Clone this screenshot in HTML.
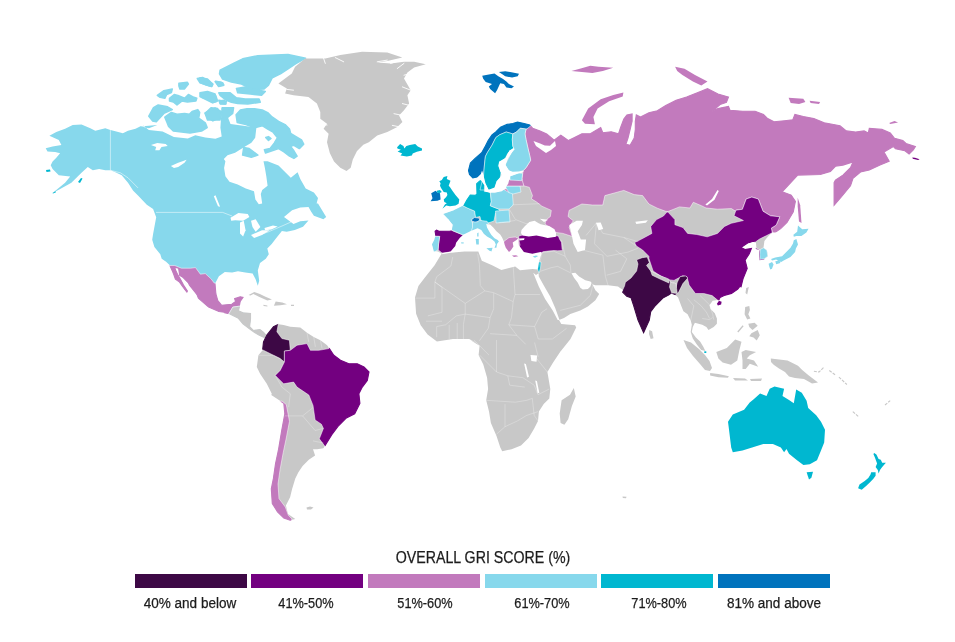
<!DOCTYPE html>
<html><head><meta charset="utf-8"><style>
html,body{margin:0;padding:0;background:#fff;}
body{width:955px;height:642px;position:relative;overflow:hidden;font-family:"Liberation Sans",sans-serif;color:#1c1c1c;-webkit-text-stroke:0.25px #1c1c1c;}
svg{position:absolute;left:0;top:0;}
.title{position:absolute;left:282.6px;width:400px;top:549px;text-align:center;font-size:16px;line-height:18px;transform:scaleX(0.887);transform-origin:50% 50%;}
.bar{position:absolute;top:574px;width:112px;height:14px;}
.lab{position:absolute;top:595px;width:112px;text-align:center;font-size:14px;line-height:16px;transform:scaleX(0.967);transform-origin:50% 50%;}
</style></head><body>
<svg width="955" height="540" viewBox="0 0 955 540">
<defs>
<mask id="cNA" maskUnits="userSpaceOnUse" x="0" y="0" width="955" height="540"><path d="M49.4,135.7L58.8,140.1L61.4,145.1L52.6,146.4L45.7,148.3L47.5,151.4L55.1,152.0L60.1,153.3L56.3,157.7L52.6,161.5L50.7,165.2L52.6,169.0L58.8,175.3L70.2,176.5L65.1,182.8L52.6,192.9L58.8,189.7L71.4,182.8L81.5,172.8L87.8,167.1L92.8,170.3L99.1,169.0L105.3,170.3L110.4,170.3L115.4,172.2L121.7,175.3L128.0,182.8L133.0,190.4L138.0,195.4L146.8,204.7L153.1,208.9L156.2,217.3L153.1,234.0L152.2,239.7L154.4,247.0L160.3,254.3L161.7,258.7L166.1,261.7L169.8,265.3L172.1,270.4L173.7,274.2L175.4,279.1L179.2,281.8L182.4,286.2L186.8,292.2L187.4,291.1L183.5,285.1L180.3,279.1L177.5,274.2L175.4,269.8L174.8,267.1L178.6,268.2L179.7,275.3L183.0,277.4L188.4,282.9L189.5,285.1L195.5,292.7L197.2,295.0L198.4,298.3L208.6,307.1L218.9,311.5L229.9,313.0L224.3,312.7L229.0,313.6L230.9,314.6L238.4,318.3L243.0,323.9L250.5,329.5L254.3,332.3L258.9,335.1L265.5,338.0L266.8,336.0L265.9,335.1L263.6,332.3L259.9,329.5L253.3,330.5L249.6,326.7L250.5,319.3L250.5,313.6L243.0,312.7L238.4,310.8L239.3,307.1L239.3,306.2L240.2,301.5L243.0,297.3L240.2,296.8L234.6,298.7L235.6,301.5L231.8,304.3L221.5,305.2L217.8,300.6L215.9,294.0L215.0,283.7L218.9,276.3L224.8,271.9L232.1,272.6L238.0,271.2L245.3,272.6L252.6,273.4L255.6,279.2L257.8,285.8L259.2,280.7L257.8,270.4L260.0,263.1L265.8,258.7L268.8,254.3L267.3,248.5L271.7,244.1L276.1,238.2L281.9,230.9L286.7,231.7L294.8,230.1L303.0,226.7L308.5,220.6L300.3,221.2L293.5,224.0L284.0,217.1L292.1,210.3L300.3,207.6L308.5,206.9L311.2,211.7L313.9,215.8L323.4,219.2L326.2,217.1L322.1,210.3L318.0,203.5L316.6,203.5L318.0,198.1L313.9,192.6L305.7,188.6L300.3,179.0L297.6,172.2L290.8,177.7L285.3,172.2L278.5,165.4L267.6,161.3L263.5,161.3L264.9,168.1L266.3,176.3L267.6,185.8L262.2,189.9L260.8,194.0L262.2,203.5L258.8,204.2L255.4,199.5L254.0,191.3L245.8,188.6L237.7,184.5L229.5,181.8L225.4,176.3L224.1,168.1L225.4,161.3L223.8,159.1L227.5,155.3L235.1,152.8L245.1,146.5L251.4,142.7L255.2,137.7L256.4,127.6L230.5,123.9L228.0,117.6L233.0,108.8L221.7,107.6L220.4,127.7L221.7,136.5L215.4,138.8L205.3,137.5L195.3,135.2L187.8,138.4L173.9,137.1L162.6,131.5L148.8,130.0L143.8,125.8L140.0,126.4L157.3,125.1L148.9,128.3L145.6,127.5L140.5,126.3L135.5,128.8L128.0,130.7L122.9,133.2L115.4,131.3L110.4,130.1L105.3,128.2L95.3,130.7L90.3,128.2L81.5,124.4L72.7,125.0L65.1,128.8L56.3,131.9Z" fill="#fff" stroke="#fff" stroke-width="1.1"/></mask>
<mask id="cEA" maskUnits="userSpaceOnUse" x="0" y="0" width="955" height="540"><path d="M441.4,253.6L438.1,251.5L434.3,250.9L432.6,244.4L434.8,240.0L435.9,236.2L435.1,231.3L436.5,230.2L438.6,231.0L449.5,231.3L452.3,230.7L453.4,224.7L448.5,218.5L444.3,214.3L453.5,210.9L463.6,205.9L466.9,200.0L470.3,195.0L475.3,195.4L477.0,193.8L476.7,183.7L480.4,180.4L483.7,185.4L483.7,192.1L488.7,193.0L495.0,193.3L502.0,191.8L505.5,189.5L507.0,186.5L508.8,183.7L510.5,177.0L517.2,174.5L523.9,172.0L525.6,169.5L523.1,170.6L512.8,171.1L509.0,169.7L506.2,165.0L508.1,158.4L515.6,148.9L513.7,147.5L509.0,149.9L505.2,157.4L498.6,161.2L497.7,165.9L499.6,171.5L501.5,175.0L496.0,181.0L494.0,187.0L489.0,189.0L486.0,183.0L483.7,173.7L482.0,168.6L480.4,173.7L477.0,177.0L472.8,177.9L469.5,174.5L468.5,170.6L470.4,163.1L475.1,158.4L481.7,152.7L485.4,146.1L488.3,140.4L492.0,134.8L495.8,132.0L500.5,127.3L507.1,124.4L512.8,123.5L517.5,122.1L524.1,123.5L529.7,124.9L532.6,128.2L540.1,131.0L546.7,133.9L550.0,136.7L554.1,140.2L560.8,135.1L570.0,141.8L569.3,140.1L573.5,138.0L581.9,133.8L590.3,133.8L600.7,127.5L602.8,132.7L611.2,131.7L618.5,133.8L620.6,127.5L623.8,119.1L626.9,114.9L632.1,113.9L632.1,121.2L630.1,129.6L628.0,138.0L625.9,144.2L630.1,145.3L634.2,138.0L635.3,129.6L635.3,121.2L636.3,114.9L640.5,117.0L648.9,112.8L657.3,110.7L665.7,105.5L676.1,100.3L686.6,97.1L699.2,91.9L707.5,88.7L718.0,94.0L728.5,97.1L726.4,102.4L720.1,104.5L711.7,111.8L718.0,108.6L728.5,106.5L730.0,110.3L742.6,111.3L755.1,111.3L763.5,114.5L767.7,118.6L774.0,121.8L784.5,120.7L792.8,119.7L794.9,114.5L803.3,116.5L813.8,118.6L824.2,122.8L840.0,125.7L846.3,130.9L855.7,132.0L864.1,130.9L868.3,133.0L869.3,128.3L881.9,129.4L890.3,133.0L894.5,138.3L902.8,140.4L906.0,143.5L915.4,146.6L913.3,149.8L909.1,154.0L904.9,150.8L895.5,148.7L893.4,146.6L884.0,151.9L889.2,161.3L880.0,165.1L869.3,170.1L860.5,172.0L853.0,178.3L850.5,185.8L841.7,196.5L834.1,205.3L834.1,182.7L835.4,180.2L842.9,175.1L850.5,167.6L853.0,161.9L842.9,165.1L835.4,166.3L830.4,171.4L820.3,174.5L797.7,175.1L782.6,191.5L782.8,192.0L791.2,195.1L795.4,201.4L793.3,211.9L787.0,222.4L780.7,228.6L774.5,232.8L771.3,230.7L772.0,232.6L767.8,236.8L764.4,241.0L763.5,247.8L766.9,250.3L767.8,256.2L764.4,258.7L760.2,259.5L759.8,254.5L760.2,249.4L756.4,248.6L756.0,242.7L753.5,241.2L747.2,243.3L740.9,247.5L745.1,249.6L751.4,248.5L749.3,253.8L745.1,260.1L747.2,268.4L743.0,278.9L740.9,287.3L741.0,285.0L737.8,289.2L731.5,293.4L724.2,295.5L720.0,297.6L719.0,299.7L712.7,300.7L709.6,304.9L710.6,309.1L714.8,313.3L716.9,318.5L716.9,323.7L713.7,326.9L708.5,330.0L706.4,326.9L702.2,324.8L694.9,322.7L692.8,326.9L691.8,332.1L695.9,337.4L700.1,341.5L703.3,346.8L705.4,351.0L701.2,349.9L697.0,344.7L692.8,338.4L690.7,332.1L691.8,324.8L690.7,320.6L687.6,314.3L683.4,311.2L681.3,305.9L678.1,297.6L675.0,294.4L672.4,293.5L677.3,293.5L671.7,292.8L668.9,294.9L663.3,297.7L654.9,306.1L650.7,311.7L649.3,320.1L643.6,332.7L638.0,320.1L633.8,306.1L631.0,297.7L626.8,296.3L622.6,292.1L623.3,290.0L620.0,288.0L618.0,286.5L608.0,285.2L595.4,285.2L592.9,284.6L590.4,281.5L585.3,280.2L579.1,276.4L575.3,272.7L571.5,273.3L574.0,277.7L577.8,282.7L580.3,287.8L582.8,289.6L587.9,289.0L590.4,286.5L591.6,282.7L595.4,290.3L599.2,294.0L595.4,300.3L587.9,306.6L580.3,310.4L570.3,314.1L564.0,317.9L559.0,320.0L561.3,324.1L575.1,325.2L576.2,327.5L570.5,339.0L561.3,350.6L560.6,351.3L553.1,362.6L547.4,372.0L548.4,377.7L550.3,389.0L549.3,398.4L543.7,404.1L538.9,411.6L538.0,421.0L534.2,428.6L528.6,438.0L521.0,445.5L511.6,449.3L502.2,451.2L500.3,447.4L496.5,436.1L490.9,422.9L489.0,411.6L486.2,400.3L488.1,389.0L487.1,377.7L483.3,364.5L478.6,355.1L479.6,345.7L470.2,340.0L478.3,343.7L469.1,339.1L453.0,339.1L436.9,341.4L427.6,334.4L420.7,325.2L416.1,313.7L415.0,297.6L418.4,286.1L425.3,276.9L434.6,265.3L441.5,253.8Z" fill="#fff" stroke="#fff" stroke-width="1.1"/></mask>
<mask id="cSA" maskUnits="userSpaceOnUse" x="0" y="0" width="955" height="540"><path d="M266.8,335.2L273.5,326.8L278.5,324.3L283.6,325.1L290.3,326.8L300.3,327.6L307.0,332.7L313.7,336.9L320.4,340.2L327.1,345.2L330.5,350.3L333.8,355.3L340.5,360.3L348.9,363.7L357.3,363.7L364.0,367.0L369.0,372.0L367.3,380.4L362.3,387.1L358.9,393.8L359.9,403.3L354.7,413.8L346.4,417.9L338.0,426.3L331.8,434.6L323.4,448.2L317.2,449.2L313.0,449.2L315.1,455.5L308.8,459.7L302.6,465.9L298.4,472.2L295.3,478.4L292.1,488.9L290.1,497.2L285.9,505.6L288.0,513.9L295.3,519.1L290.1,520.2L283.8,518.1L277.5,511.8L272.3,503.5L271.3,488.9L273.4,478.4L275.5,463.8L278.6,449.2L281.7,430.5L284.8,413.8L283.8,403.3L271.3,395.0L271.8,393.8L266.8,383.8L260.1,373.7L256.8,367.0L258.4,355.3L262.6,350.3L263.5,341.9Z" fill="#fff" stroke="#fff" stroke-width="1.1"/></mask>
</defs>
<path d="M49.4,135.7L58.8,140.1L61.4,145.1L52.6,146.4L45.7,148.3L47.5,151.4L55.1,152.0L60.1,153.3L56.3,157.7L52.6,161.5L50.7,165.2L52.6,169.0L58.8,175.3L70.2,176.5L65.1,182.8L52.6,192.9L58.8,189.7L71.4,182.8L81.5,172.8L87.8,167.1L92.8,170.3L99.1,169.0L105.3,170.3L110.4,170.3L115.4,172.2L121.7,175.3L128.0,182.8L133.0,190.4L138.0,195.4L146.8,204.7L153.1,208.9L156.2,217.3L153.1,234.0L152.2,239.7L154.4,247.0L160.3,254.3L161.7,258.7L166.1,261.7L169.8,265.3L172.1,270.4L173.7,274.2L175.4,279.1L179.2,281.8L182.4,286.2L186.8,292.2L187.4,291.1L183.5,285.1L180.3,279.1L177.5,274.2L175.4,269.8L174.8,267.1L178.6,268.2L179.7,275.3L183.0,277.4L188.4,282.9L189.5,285.1L195.5,292.7L197.2,295.0L198.4,298.3L208.6,307.1L218.9,311.5L229.9,313.0L224.3,312.7L229.0,313.6L230.9,314.6L238.4,318.3L243.0,323.9L250.5,329.5L254.3,332.3L258.9,335.1L265.5,338.0L266.8,336.0L265.9,335.1L263.6,332.3L259.9,329.5L253.3,330.5L249.6,326.7L250.5,319.3L250.5,313.6L243.0,312.7L238.4,310.8L239.3,307.1L239.3,306.2L240.2,301.5L243.0,297.3L240.2,296.8L234.6,298.7L235.6,301.5L231.8,304.3L221.5,305.2L217.8,300.6L215.9,294.0L215.0,283.7L218.9,276.3L224.8,271.9L232.1,272.6L238.0,271.2L245.3,272.6L252.6,273.4L255.6,279.2L257.8,285.8L259.2,280.7L257.8,270.4L260.0,263.1L265.8,258.7L268.8,254.3L267.3,248.5L271.7,244.1L276.1,238.2L281.9,230.9L286.7,231.7L294.8,230.1L303.0,226.7L308.5,220.6L300.3,221.2L293.5,224.0L284.0,217.1L292.1,210.3L300.3,207.6L308.5,206.9L311.2,211.7L313.9,215.8L323.4,219.2L326.2,217.1L322.1,210.3L318.0,203.5L316.6,203.5L318.0,198.1L313.9,192.6L305.7,188.6L300.3,179.0L297.6,172.2L290.8,177.7L285.3,172.2L278.5,165.4L267.6,161.3L263.5,161.3L264.9,168.1L266.3,176.3L267.6,185.8L262.2,189.9L260.8,194.0L262.2,203.5L258.8,204.2L255.4,199.5L254.0,191.3L245.8,188.6L237.7,184.5L229.5,181.8L225.4,176.3L224.1,168.1L225.4,161.3L223.8,159.1L227.5,155.3L235.1,152.8L245.1,146.5L251.4,142.7L255.2,137.7L256.4,127.6L230.5,123.9L228.0,117.6L233.0,108.8L221.7,107.6L220.4,127.7L221.7,136.5L215.4,138.8L205.3,137.5L195.3,135.2L187.8,138.4L173.9,137.1L162.6,131.5L148.8,130.0L143.8,125.8L140.0,126.4L157.3,125.1L148.9,128.3L145.6,127.5L140.5,126.3L135.5,128.8L128.0,130.7L122.9,133.2L115.4,131.3L110.4,130.1L105.3,128.2L95.3,130.7L90.3,128.2L81.5,124.4L72.7,125.0L65.1,128.8L56.3,131.9Z" fill="#87d8ec"/>
<g mask="url(#cNA)">
<path d="M169.9,265.5L174.8,265.5L181.4,268.2L190.6,268.2L195.5,267.6L200.4,274.2L205.3,273.6L211.3,279.1L214.1,282.9L216.7,283.6L226.0,287.0L246.0,295.0L245.0,306.0L239.3,306.2L232.8,307.1L229.0,313.6L225.0,318.0L208.6,316.0L167.6,273.4L166.1,264.6Z" fill="#c27abd" stroke="#fff" stroke-width="0.5"/>
<path d="M225.0,318.0L229.0,313.6L232.8,307.1L239.3,306.2L245.0,306.0L300.0,320.0L300.0,332.0L268.0,334.0L267.0,342.0L250.0,345.0L222.0,325.0Z" fill="#c8c8c8" stroke="#fff" stroke-width="0.5"/>
</g>
<path d="M156.0,212.4L222.7,212.4L232.0,216.0" fill="none" stroke="#fff" stroke-width="0.5"/>
<path d="M110.4,130.1L110.4,170.3L120.4,172.8L128.0,177.8L138.0,187.9" fill="none" stroke="#fff" stroke-width="0.5"/>
<path d="M262.0,234.0L268.0,232.0L282.0,226.0L291.0,222.0L289.0,218.0" fill="none" stroke="#fff" stroke-width="0.5"/>
<path d="M157.3,95.4L163.9,90.7L172.3,88.9L171.4,92.6L166.7,94.5L164.8,98.3L160.1,97.3Z" fill="#87d8ec" stroke="#87d8ec" stroke-width="1.5" stroke-linejoin="round"/>
<path d="M178.9,83.2L187.4,82.3L188.4,84.1L184.6,88.9L179.9,88.9L178.9,86.0Z" fill="#87d8ec" stroke="#87d8ec" stroke-width="1.5" stroke-linejoin="round"/>
<path d="M169.5,98.3L174.2,94.5L178.0,95.4L184.6,98.3L188.4,94.5L194.0,97.3L196.8,98.3L195.9,101.1L187.4,102.0L181.8,101.1L177.0,104.9L173.3,102.0L169.5,101.1Z" fill="#87d8ec" stroke="#87d8ec" stroke-width="1.5" stroke-linejoin="round"/>
<path d="M197.3,78.5L202.5,77.5L209.1,81.3L212.9,84.1L211.9,86.5L206.3,85.1L199.7,82.3Z" fill="#87d8ec" stroke="#87d8ec" stroke-width="1.5" stroke-linejoin="round"/>
<path d="M215.7,81.3L221.3,82.3L223.2,85.1L218.5,86.0Z" fill="#87d8ec" stroke="#87d8ec" stroke-width="1.5" stroke-linejoin="round"/>
<path d="M200.6,93.6L205.3,93.1L210.0,93.6L215.7,95.4L217.6,101.1L212.9,102.5L205.3,98.3L201.5,97.3Z" fill="#87d8ec" stroke="#87d8ec" stroke-width="1.5" stroke-linejoin="round"/>
<path d="M219.5,101.1L224.2,100.2L226.1,103.9L220.4,103.9Z" fill="#87d8ec" stroke="#87d8ec" stroke-width="1.5" stroke-linejoin="round"/>
<path d="M148.8,116.2L153.5,107.7L158.2,104.9L167.6,106.8L172.3,109.6L163.9,113.4L156.3,121.8L152.5,120.9Z" fill="#87d8ec" stroke="#87d8ec" stroke-width="1.5" stroke-linejoin="round"/>
<path d="M164.8,117.1L171.4,112.4L177.0,114.3L184.6,113.4L189.3,114.3L192.1,111.5L197.8,109.6L199.7,112.4L198.7,118.1L205.3,122.8L207.2,127.5L201.5,131.0L190.0,133.0L173.3,131.0L168.6,126.5L166.7,121.8Z" fill="#87d8ec" stroke="#87d8ec" stroke-width="1.5" stroke-linejoin="round"/>
<path d="M205.3,113.4L211.0,107.7L217.6,108.6L219.5,113.4L216.6,119.0L212.9,120.9L207.2,117.1Z" fill="#87d8ec" stroke="#87d8ec" stroke-width="1.5" stroke-linejoin="round"/>
<path d="M222.3,107.7L233.6,107.7L232.7,113.4L227.9,117.1L225.1,120.9L222.3,115.2Z" fill="#87d8ec" stroke="#87d8ec" stroke-width="1.5" stroke-linejoin="round"/>
<path d="M220.1,70.2L233.9,63.2L242.7,58.8L257.8,55.7L275.4,55.1L288.0,54.5L305.6,58.2L295.5,63.9L288.0,68.9L280.4,73.9L272.3,77.7L268.5,85.2L264.1,89.0L252.8,89.6L241.5,84.0L231.4,82.1L222.6,79.0L219.5,73.9Z" fill="#87d8ec" stroke="#87d8ec" stroke-width="1.5" stroke-linejoin="round"/>
<path d="M236.4,88.4L245.2,87.1L255.3,89.6L265.3,91.5L261.6,95.3L250.3,94.0L237.7,92.8Z" fill="#87d8ec" stroke="#87d8ec" stroke-width="1.5" stroke-linejoin="round"/>
<path d="M218.8,92.8L230.2,92.8L236.4,97.8L245.2,99.1L259.1,99.1L260.3,102.2L247.8,104.1L237.7,103.5L231.4,102.2L226.4,100.3L220.1,95.3Z" fill="#87d8ec" stroke="#87d8ec" stroke-width="1.5" stroke-linejoin="round"/>
<path d="M200.0,77.7L207.5,79.0L212.6,84.0L211.3,86.5L203.8,84.0L200.0,82.7Z" fill="#87d8ec" stroke="#87d8ec" stroke-width="1.5" stroke-linejoin="round"/>
<path d="M215.1,81.5L222.6,82.7L223.9,85.2L218.8,86.5Z" fill="#87d8ec" stroke="#87d8ec" stroke-width="1.5" stroke-linejoin="round"/>
<path d="M200.0,92.8L207.5,91.5L215.1,94.0L216.3,101.6L212.6,102.8L205.0,99.1L200.0,96.5Z" fill="#87d8ec" stroke="#87d8ec" stroke-width="1.5" stroke-linejoin="round"/>
<path d="M218.8,100.3L226.4,101.6L225.1,104.1L220.1,103.5Z" fill="#87d8ec" stroke="#87d8ec" stroke-width="1.5" stroke-linejoin="round"/>
<path d="M205.0,112.9L215.1,107.9L221.4,111.6L220.1,120.0L207.5,120.0Z" fill="#87d8ec" stroke="#87d8ec" stroke-width="1.5" stroke-linejoin="round"/>
<path d="M222.6,107.9L232.7,108.5L228.9,115.4L223.9,120.0L222.0,115.4Z" fill="#87d8ec" stroke="#87d8ec" stroke-width="1.5" stroke-linejoin="round"/>
<path d="M236.1,114.8L240.4,109.9L247.0,108.8L254.6,108.8L262.2,109.9L267.7,112.6L272.1,117.0L278.6,121.3L285.1,124.6L289.5,129.0L290.6,133.3L296.0,136.6L301.5,139.9L303.7,144.2L299.3,148.6L293.9,145.3L290.6,146.4L293.9,150.8L297.1,156.2L293.9,158.4L289.5,156.2L284.0,151.9L278.6,148.6L272.1,150.8L265.5,153.0L264.4,149.7L269.9,148.6L274.2,143.1L277.5,137.7L273.1,132.2L267.7,129.0L262.2,125.7L254.6,127.9L245.9,124.6L237.2,122.4Z" fill="#87d8ec" stroke="#87d8ec" stroke-width="1.5" stroke-linejoin="round"/>
<path d="M243.7,147.5L249.2,148.6L257.9,155.1L251.3,157.3L242.6,155.1Z" fill="#87d8ec" stroke="#87d8ec" stroke-width="1.5" stroke-linejoin="round"/>
<path d="M265.7,137.5L268.5,136.6L271.0,138.5L268.5,140.4Z" fill="#87d8ec" stroke="#87d8ec" stroke-width="1.5" stroke-linejoin="round"/>
<path d="M151.0,145.0L157.3,142.9L165.7,144.0L167.7,146.1L161.5,147.1L159.4,150.3L155.2,150.3L156.2,147.1Z" fill="#fff"/>
<path d="M170.9,166.0L178.2,162.8L186.6,159.7L184.5,162.8L178.2,167.0L174.0,168.1Z" fill="#fff"/>
<path d="M213.8,196.3L215.5,195.3L220.1,206.8L218.0,206.3Z" fill="#fff"/>
<path d="M230.5,217.7L238.4,213.0L247.8,213.9L249.4,217.1L243.1,220.8L235.2,220.2L231.2,220.8Z" fill="#fff"/>
<path d="M240.0,222.4L243.7,220.8L245.6,230.3L243.1,236.5L240.0,233.4Z" fill="#fff"/>
<path d="M251.0,220.8L255.7,219.3L260.4,227.1L255.7,231.8L252.5,227.1Z" fill="#fff"/>
<path d="M251.0,235.0L262.0,230.3L269.8,230.3L262.0,235.0L254.1,238.1Z" fill="#fff"/>
<path d="M264.5,228.1L273.0,225.6L277.7,226.5L271.4,229.6L265.1,230.3Z" fill="#fff"/>
<path d="M46.0,170.0L50.0,169.5L50.5,171.5L46.5,172.0Z" fill="#00b7d0"/>
<path d="M78.0,182.0L81.0,178.0L82.5,178.5L80.0,183.0Z" fill="#00b7d0"/>
<path d="M52.5,193.0L55.5,191.3L56.0,192.3L53.0,193.6Z" fill="#00b7d0"/>
<path d="M248.6,295.0L254.3,292.1L259.9,294.0L265.5,296.8L272.0,299.6L267.3,300.6L258.9,296.8L253.3,294.0L250.5,295.4Z" fill="#c8c8c8"/>
<path d="M275.7,301.5L282.3,302.4L287.0,304.3L280.4,305.2L273.9,305.7Z" fill="#c8c8c8"/>
<path d="M263.3,304.8L267.3,305.4L267.5,306.6L263.6,306.0Z" fill="#c8c8c8"/>
<path d="M290.9,304.8L294.0,304.8L294.0,306.0L291.0,306.0Z" fill="#c8c8c8"/>
<path d="M305.2,58.4L325.3,58.4L340.4,55.1L362.1,51.7L387.3,52.5L402.3,57.6L387.3,60.9L377.2,62.6L390.6,63.4L404.0,61.8L414.1,61.8L425.8,64.3L414.1,67.6L407.4,72.6L404.0,78.5L410.7,90.2L407.4,95.3L409.1,103.6L404.0,110.3L399.0,115.4L402.4,122.1L397.3,127.1L387.3,132.1L377.2,135.5L368.8,142.2L363.3,144.7L357.0,151.0L352.8,159.4L350.7,167.7L346.5,170.9L340.3,167.7L334.0,161.5L329.8,153.1L327.0,142.2L328.6,133.8L323.6,128.8L327.0,123.7L320.3,118.7L320.3,112.0L316.9,103.6L308.5,96.9L293.5,95.3L285.1,93.6L286.8,88.6L278.4,83.5L291.8,73.5L295.1,66.8Z" fill="#c8c8c8"/>
<path d="M323.6,58.4L325.3,63.4" fill="none" stroke="#fff" stroke-width="0.9" stroke-linecap="round"/>
<path d="M335.3,57.6L343.7,61.8" fill="none" stroke="#fff" stroke-width="0.9" stroke-linecap="round"/>
<path d="M377.2,61.8L387.3,60.1" fill="none" stroke="#fff" stroke-width="0.9" stroke-linecap="round"/>
<path d="M390.6,63.4L399.0,60.9" fill="none" stroke="#fff" stroke-width="0.9" stroke-linecap="round"/>
<path d="M397.3,68.5L404.0,63.4" fill="none" stroke="#fff" stroke-width="0.9" stroke-linecap="round"/>
<path d="M404.0,75.2L410.7,73.5" fill="none" stroke="#fff" stroke-width="0.9" stroke-linecap="round"/>
<path d="M402.4,86.9L410.7,90.2" fill="none" stroke="#fff" stroke-width="0.9" stroke-linecap="round"/>
<path d="M402.4,103.6L409.1,105.3" fill="none" stroke="#fff" stroke-width="0.9" stroke-linecap="round"/>
<path d="M394.0,113.7L402.4,115.4" fill="none" stroke="#fff" stroke-width="0.9" stroke-linecap="round"/>
<path d="M392.3,125.4L400.7,127.1" fill="none" stroke="#fff" stroke-width="0.9" stroke-linecap="round"/>
<path d="M320.3,123.7L327.0,125.0" fill="none" stroke="#fff" stroke-width="0.9" stroke-linecap="round"/>
<path d="M286.8,89.4L293.5,90.2" fill="none" stroke="#fff" stroke-width="0.9" stroke-linecap="round"/>
<path d="M397.1,147.2L400.1,144.0L403.5,145.9L404.3,148.5L406.4,145.9L409.8,145.1L415.2,144.0L417.8,146.4L422.0,148.5L422.0,150.6L416.9,151.8L412.7,153.5L411.9,155.6L406.8,156.4L400.5,155.6L402.2,153.5L397.6,151.4L400.9,149.7L397.4,148.5Z" fill="#00b7d0"/>
<path d="M482.2,75.7L488.8,74.4L494.5,73.5L498.3,76.3L502.7,78.8L506.4,81.4L508.9,83.9L514.0,86.4L511.5,88.3L506.4,87.6L503.9,83.9L500.2,83.2L497.0,90.2L495.1,93.3L490.1,88.9L488.8,86.4L492.0,83.9L485.7,82.0L483.2,78.8Z" fill="#0073bd"/>
<path d="M498.9,71.9L505.2,71.3L510.2,71.9L519.0,73.8L517.7,76.3L512.1,77.6L505.2,76.3L502.7,74.4Z" fill="#0073bd"/>
<path d="M441.4,253.6L438.1,251.5L434.3,250.9L432.6,244.4L434.8,240.0L435.9,236.2L435.1,231.3L436.5,230.2L438.6,231.0L449.5,231.3L452.3,230.7L453.4,224.7L448.5,218.5L444.3,214.3L453.5,210.9L463.6,205.9L466.9,200.0L470.3,195.0L475.3,195.4L477.0,193.8L476.7,183.7L480.4,180.4L483.7,185.4L483.7,192.1L488.7,193.0L495.0,193.3L502.0,191.8L505.5,189.5L507.0,186.5L508.8,183.7L510.5,177.0L517.2,174.5L523.9,172.0L525.6,169.5L523.1,170.6L512.8,171.1L509.0,169.7L506.2,165.0L508.1,158.4L515.6,148.9L513.7,147.5L509.0,149.9L505.2,157.4L498.6,161.2L497.7,165.9L499.6,171.5L501.5,175.0L496.0,181.0L494.0,187.0L489.0,189.0L486.0,183.0L483.7,173.7L482.0,168.6L480.4,173.7L477.0,177.0L472.8,177.9L469.5,174.5L468.5,170.6L470.4,163.1L475.1,158.4L481.7,152.7L485.4,146.1L488.3,140.4L492.0,134.8L495.8,132.0L500.5,127.3L507.1,124.4L512.8,123.5L517.5,122.1L524.1,123.5L529.7,124.9L532.6,128.2L540.1,131.0L546.7,133.9L550.0,136.7L554.1,140.2L560.8,135.1L570.0,141.8L569.3,140.1L573.5,138.0L581.9,133.8L590.3,133.8L600.7,127.5L602.8,132.7L611.2,131.7L618.5,133.8L620.6,127.5L623.8,119.1L626.9,114.9L632.1,113.9L632.1,121.2L630.1,129.6L628.0,138.0L625.9,144.2L630.1,145.3L634.2,138.0L635.3,129.6L635.3,121.2L636.3,114.9L640.5,117.0L648.9,112.8L657.3,110.7L665.7,105.5L676.1,100.3L686.6,97.1L699.2,91.9L707.5,88.7L718.0,94.0L728.5,97.1L726.4,102.4L720.1,104.5L711.7,111.8L718.0,108.6L728.5,106.5L730.0,110.3L742.6,111.3L755.1,111.3L763.5,114.5L767.7,118.6L774.0,121.8L784.5,120.7L792.8,119.7L794.9,114.5L803.3,116.5L813.8,118.6L824.2,122.8L840.0,125.7L846.3,130.9L855.7,132.0L864.1,130.9L868.3,133.0L869.3,128.3L881.9,129.4L890.3,133.0L894.5,138.3L902.8,140.4L906.0,143.5L915.4,146.6L913.3,149.8L909.1,154.0L904.9,150.8L895.5,148.7L893.4,146.6L884.0,151.9L889.2,161.3L880.0,165.1L869.3,170.1L860.5,172.0L853.0,178.3L850.5,185.8L841.7,196.5L834.1,205.3L834.1,182.7L835.4,180.2L842.9,175.1L850.5,167.6L853.0,161.9L842.9,165.1L835.4,166.3L830.4,171.4L820.3,174.5L797.7,175.1L782.6,191.5L782.8,192.0L791.2,195.1L795.4,201.4L793.3,211.9L787.0,222.4L780.7,228.6L774.5,232.8L771.3,230.7L772.0,232.6L767.8,236.8L764.4,241.0L763.5,247.8L766.9,250.3L767.8,256.2L764.4,258.7L760.2,259.5L759.8,254.5L760.2,249.4L756.4,248.6L756.0,242.7L753.5,241.2L747.2,243.3L740.9,247.5L745.1,249.6L751.4,248.5L749.3,253.8L745.1,260.1L747.2,268.4L743.0,278.9L740.9,287.3L741.0,285.0L737.8,289.2L731.5,293.4L724.2,295.5L720.0,297.6L719.0,299.7L712.7,300.7L709.6,304.9L710.6,309.1L714.8,313.3L716.9,318.5L716.9,323.7L713.7,326.9L708.5,330.0L706.4,326.9L702.2,324.8L694.9,322.7L692.8,326.9L691.8,332.1L695.9,337.4L700.1,341.5L703.3,346.8L705.4,351.0L701.2,349.9L697.0,344.7L692.8,338.4L690.7,332.1L691.8,324.8L690.7,320.6L687.6,314.3L683.4,311.2L681.3,305.9L678.1,297.6L675.0,294.4L672.4,293.5L677.3,293.5L671.7,292.8L668.9,294.9L663.3,297.7L654.9,306.1L650.7,311.7L649.3,320.1L643.6,332.7L638.0,320.1L633.8,306.1L631.0,297.7L626.8,296.3L622.6,292.1L623.3,290.0L620.0,288.0L618.0,286.5L608.0,285.2L595.4,285.2L592.9,284.6L590.4,281.5L585.3,280.2L579.1,276.4L575.3,272.7L571.5,273.3L574.0,277.7L577.8,282.7L580.3,287.8L582.8,289.6L587.9,289.0L590.4,286.5L591.6,282.7L595.4,290.3L599.2,294.0L595.4,300.3L587.9,306.6L580.3,310.4L570.3,314.1L564.0,317.9L559.0,320.0L561.3,324.1L575.1,325.2L576.2,327.5L570.5,339.0L561.3,350.6L560.6,351.3L553.1,362.6L547.4,372.0L548.4,377.7L550.3,389.0L549.3,398.4L543.7,404.1L538.9,411.6L538.0,421.0L534.2,428.6L528.6,438.0L521.0,445.5L511.6,449.3L502.2,451.2L500.3,447.4L496.5,436.1L490.9,422.9L489.0,411.6L486.2,400.3L488.1,389.0L487.1,377.7L483.3,364.5L478.6,355.1L479.6,345.7L470.2,340.0L478.3,343.7L469.1,339.1L453.0,339.1L436.9,341.4L427.6,334.4L420.7,325.2L416.1,313.7L415.0,297.6L418.4,286.1L425.3,276.9L434.6,265.3L441.5,253.8Z" fill="#c8c8c8"/>
<g mask="url(#cEA)">
<path d="M529.7,124.9L529.0,60.0L940.0,40.0L955.0,170.0L880.0,215.0L800.0,235.0L782.8,232.8L772.3,232.7L771.4,228.0L776.1,225.2L779.8,216.8L770.5,215.8L763.0,211.2L758.3,199.0L751.8,197.1L746.2,199.0L742.4,209.3L735.9,210.2L736.0,211.5L731.4,208.6L717.5,209.2L706.0,208.0L701.4,205.7L693.3,202.3L689.9,208.0L679.5,206.9L668.0,211.5L665.7,211.3L657.3,208.2L648.9,204.0L642.6,195.6L634.2,194.6L623.8,190.4L604.9,195.6L602.8,205.0L592.4,205.0L581.9,204.0L569.1,210.4L568.1,216.6L573.3,220.8L569.1,227.1L572.3,236.5L562.8,233.4L555.5,232.4L545.0,224.0L546.1,219.8L550.3,216.6L551.3,210.4L541.9,206.2L536.6,202.0L531.4,198.8L532.5,195.7L529.3,187.3L523.8,185.9L521.7,180.7L522.7,173.4L523.1,170.6L526.0,167.8L530.7,160.2L529.7,155.5L527.9,148.0L526.0,139.5L525.0,133.9L526.0,129.1L527.9,128.2Z" fill="#c27abd" stroke="#fff" stroke-width="0.5"/>
<path d="M502.8,189.1L509.1,188.8L509.1,192.7L502.8,192.7Z" fill="#c27abd" stroke="#fff" stroke-width="0.5"/>
<path d="M668.0,212.1L674.9,219.6L674.9,224.7L683.0,227.6L687.6,233.4L696.8,234.5L707.2,236.8L717.5,233.4L724.4,226.5L731.2,223.3L743.4,220.5L734.0,215.8L735.9,210.2L742.4,209.3L746.2,199.0L751.8,197.1L758.3,199.0L763.0,211.2L770.5,215.8L779.8,216.8L776.1,225.2L771.4,228.0L772.3,232.7L766.7,235.5L759.3,239.2L755.5,242.0L748.0,244.0L760.0,250.0L770.0,270.0L760.0,300.0L720.0,315.0L718.4,300.8L712.1,295.6L703.8,293.5L695.4,293.5L689.1,285.1L687.0,276.8L682.8,275.7L674.0,280.4L665.7,279.4L653.1,271.0L648.9,258.4L648.9,256.3L642.6,250.0L636.3,245.9L634.6,242.6L641.5,239.1L651.9,233.4L650.7,226.5L656.5,219.6L663.4,216.1L666.9,212.1Z" fill="#730080" stroke="#fff" stroke-width="0.5"/>
<path d="M625.4,282.2L631.0,278.0L636.6,271.0L638.0,264.0L636.6,259.8L642.2,257.7L647.2,257.0L649.3,262.6L646.5,265.4L650.7,271.0L656.3,275.2L666.1,278.0L668.9,279.4L670.3,282.2L675.9,283.6L675.9,287.9L677.3,282.2L680.1,276.6L685.7,275.9L687.8,278.0L682.9,283.6L678.7,292.1L677.3,293.5L670.0,300.0L660.0,330.0L645.0,345.0L625.0,320.0L615.0,300.0L621.5,292.5L624.5,286.0Z" fill="#3d0845" stroke="#fff" stroke-width="0.5"/>
<path d="M670.3,282.2L675.9,283.6L677.3,293.5L671.7,292.8L669.5,287.0Z" fill="#c8c8c8" stroke="#fff" stroke-width="0.5"/>
<path d="M650.7,271.0L660.0,275.5L668.9,279.4L668.9,283.0L660.0,279.0L652.1,275.2Z" fill="#c8c8c8" stroke="#fff" stroke-width="0.5"/>
<path d="M518.8,236.0L522.6,235.0L530.0,234.0L547.0,235.0L558.4,236.0L559.6,239.2L561.5,242.3L562.1,249.2L562.8,250.5L557.7,250.8L554.0,250.5L547.7,251.1L542.7,251.8L541.4,254.0L536.0,256.0L520.0,256.0L517.0,245.0L518.8,241.0Z" fill="#730080" stroke="#fff" stroke-width="0.5"/>
<path d="M503.9,241.4L509.0,237.6L515.3,237.0L518.4,238.2L520.0,245.0L515.0,256.0L505.0,255.0L502.0,246.0Z" fill="#c27abd" stroke="#fff" stroke-width="0.5"/>
<path d="M538.5,262.0L541.0,262.0L540.5,268.0L539.0,273.0L537.5,269.0Z" fill="#00b7d0" stroke="#fff" stroke-width="0.5"/>
<path d="M430.0,226.0L451.9,226.0L452.3,230.7L463.6,235.2L470.0,240.0L460.0,251.0L442.0,253.0L438.1,249.8L438.6,243.8L439.7,236.4L430.0,236.2Z" fill="#730080" stroke="#fff" stroke-width="0.5"/>
<path d="M428.0,236.2L439.7,236.4L438.6,243.8L438.1,249.8L428.0,256.0Z" fill="#87d8ec" stroke="#fff" stroke-width="0.5"/>
<path d="M440.0,208.0L455.0,202.0L462.0,205.3L467.2,207.9L474.6,211.1L475.6,217.4L471.4,219.5L472.5,223.6L473.5,232.0L480.0,240.0L463.6,235.2L451.9,230.2L445.0,226.0L438.0,215.0Z" fill="#87d8ec" stroke="#fff" stroke-width="0.5"/>
<path d="M462.0,205.3L458.0,198.0L470.0,190.0L474.0,180.0L486.0,180.0L490.3,193.3L491.3,201.6L490.3,205.8L498.6,209.0L500.0,211.0L495.5,213.0L494.0,221.0L488.0,223.0L481.0,221.0L480.0,216.5L475.6,217.4L474.6,211.1L467.2,207.9Z" fill="#00b7d0" stroke="#fff" stroke-width="0.5"/>
<path d="M471.3,220.0L474.4,217.5L478.8,218.1L480.1,220.7L475.1,222.5L472.5,221.3Z" fill="#0073bd" stroke="#fff" stroke-width="0.5"/>
<path d="M472.5,221.9L474.4,221.9L477.6,221.9L479.4,220.0L482.6,220.7L487.0,221.3L488.9,223.8L486.4,224.4L490.0,226.0L500.0,240.0L497.0,250.0L490.0,250.0L470.0,236.0L471.3,230.7L472.5,227.6Z" fill="#87d8ec" stroke="#fff" stroke-width="0.5"/>
<path d="M490.3,191.0L503.0,189.0L509.0,192.5L512.3,192.2L513.3,204.8L509.1,209.0L498.6,209.0L490.3,205.8L491.3,201.6Z" fill="#87d8ec" stroke="#fff" stroke-width="0.5"/>
<path d="M505.0,186.0L520.0,186.0L521.0,192.0L513.0,194.0L509.0,192.7Z" fill="#87d8ec" stroke="#fff" stroke-width="0.5"/>
<path d="M505.0,180.0L522.0,179.0L523.8,186.0L506.0,186.0Z" fill="#c27abd" stroke="#fff" stroke-width="0.5"/>
<path d="M510.0,172.0L522.7,173.4L521.7,180.7L510.0,180.0Z" fill="#87d8ec" stroke="#fff" stroke-width="0.5"/>
<path d="M495.5,211.0L509.0,210.0L510.0,222.0L496.0,223.0Z" fill="#87d8ec" stroke="#fff" stroke-width="0.5"/>
<path d="M460.0,175.0L462.0,160.0L475.0,145.0L490.0,128.0L505.0,118.0L525.0,115.0L535.0,122.0L527.9,128.2L526.0,129.1L520.3,128.2L516.5,132.0L512.8,133.9L506.2,132.0L499.6,134.8L495.8,137.6L492.0,145.2L487.3,152.7L485.4,156.5L484.5,164.0L483.6,175.0L470.0,182.0Z" fill="#0073bd" stroke="#fff" stroke-width="0.5"/>
<path d="M483.6,175.0L484.5,164.0L485.4,156.5L487.3,152.7L492.0,145.2L495.8,137.6L499.6,134.8L506.2,132.0L512.8,133.9L512.3,139.5L512.8,146.1L513.7,148.0L508.0,153.0L502.0,165.0L500.0,180.0L495.0,190.0L480.0,190.0Z" fill="#00b7d0" stroke="#fff" stroke-width="0.5"/>
<path d="M512.8,133.9L516.5,132.0L520.3,128.2L526.0,129.1L525.0,133.9L526.0,139.5L527.9,148.0L529.7,155.5L530.7,160.2L526.0,167.8L523.1,170.6L512.0,175.0L505.0,165.0L513.7,148.0L512.8,146.1L512.3,139.5Z" fill="#87d8ec" stroke="#fff" stroke-width="0.5"/>
<path d="M760.2,249.4L763.5,247.8L766.9,250.3L767.8,256.2L764.4,258.7L760.2,259.5L759.8,254.5Z" fill="#87d8ec" stroke="#fff" stroke-width="0.5"/>
</g>
<path d="M441.5,254.2L441.4,253.6L450.6,251.4L455.3,246.0L456.1,242.7L459.9,237.8L463.2,234.8L471.3,230.7L477.6,228.2L481.3,230.1L483.8,233.8L487.0,236.4L491.4,238.9L494.5,241.4L495.8,244.5L494.5,247.7L496.4,247.7L497.0,243.9L498.9,241.4L497.7,240.1L494.5,238.2L491.4,235.1L489.5,232.0L487.0,227.6L486.4,224.4L490.1,224.4L493.3,227.6L496.4,231.3L500.2,234.5L502.1,237.6L503.9,241.4L504.6,244.5L505.8,247.7L509.0,252.1L510.9,250.2L513.4,246.4L512.7,242.6L516.5,240.1L518.4,238.2L518.9,245.3L523.9,252.0L532.3,253.7L540.6,252.0L542.0,252.6L540.7,256.3L538.8,262.6L537.6,269.5L532.6,268.9L520.0,270.2L515.2,266.5L501.4,270.0L492.1,265.3L481.8,260.7L478.3,251.5L464.5,251.5L450.7,252.7Z" fill="#fff"/>
<path d="M521.5,230.0L525.0,226.0L529.3,221.9L534.6,220.8L539.8,224.0L544.0,225.0L549.2,226.1L554.5,229.2L556.0,233.0L555.9,236.7L547.7,237.9L542.7,236.7L536.4,235.4L528.8,236.4L522.6,235.4L521.0,233.0Z" fill="#fff"/>
<path d="M519.0,238.5L524.5,238.2L524.0,240.0L519.5,240.5Z" fill="#fff"/>
<path d="M539.8,218.7L548.2,219.8L544.0,221.9Z" fill="#fff"/>
<path d="M569.3,224.9L576.6,220.7L582.9,220.7L581.9,224.9L577.7,231.2L580.8,239.6L586.1,239.6L585.0,250.1L577.7,252.1L573.5,243.8L571.4,233.3Z" fill="#fff"/>
<path d="M533.2,272.7L538.8,286.5L545.1,299.1L552.7,310.4L557.7,320.0L559.5,320.0L555.2,307.9L550.2,296.5L545.1,287.8L538.8,276.4L538.6,273.3L536.0,275.0Z" fill="#fff"/>
<path d="M533.5,141.0L540.1,143.6L544.8,145.6L550.0,145.8L555.0,141.0L556.0,146.0L551.0,150.0L546.0,153.0L541.0,149.5L536.0,146.0Z" fill="#fff"/>
<path d="M705.4,204.5L712.0,199.0L717.5,190.0L718.8,191.0L714.5,199.8L707.0,205.5Z" fill="#fff"/>
<path d="M596.1,222.8L600.7,222.4L603.2,229.1L598.6,230.2Z" fill="#fff"/>
<path d="M635.3,221.8L647.9,220.3L645.8,222.8L636.3,223.9Z" fill="#fff"/>
<path d="M530.5,355.1L537.1,355.5L536.5,361.7L531.4,361.1Z" fill="#fff"/>
<path d="M524.1,363.6L525.9,364.1L529.0,376.8L527.1,377.5Z" fill="#fff"/>
<path d="M535.2,380.5L536.9,380.9L539.3,392.8L537.6,393.3Z" fill="#fff"/>
<path d="M704.3,351.3L706.3,351.3L706.3,353.0L704.3,353.0Z" fill="#00b7d0"/>
<path d="M622.5,496.5L626.5,496.8L626.0,498.3L622.8,498.0Z" fill="#c8c8c8"/>
<path d="M511.9,255.6L516.0,255.3L518.4,256.2L514.0,256.9Z" fill="#c27abd"/>
<path d="M461.2,242.3L463.9,242.6L463.6,243.6L461.3,243.4Z" fill="#87d8ec"/>
<path d="M486.4,248.3L492.6,247.7L491.4,251.4L488.9,250.2Z" fill="#87d8ec"/>
<path d="M475.7,238.9L478.8,238.9L478.8,244.5L476.3,244.5Z" fill="#87d8ec"/>
<path d="M477.2,233.2L478.5,232.6L478.5,236.4L477.2,236.4Z" fill="#87d8ec"/>
<path d="M532.6,256.5L536.0,255.5L538.2,256.0L535.0,257.8Z" fill="#87d8ec"/>
<path d="M443.7,177.0L447.4,176.0L446.8,178.9L450.5,180.7L448.7,185.7L449.9,187.0L452.4,190.7L455.5,195.1L459.3,199.4L458.6,203.8L455.5,205.6L449.9,206.3L446.2,205.6L442.4,208.8L444.9,204.4L446.8,203.2L444.3,201.9L443.7,199.4L446.2,196.9L447.4,195.1L446.8,192.6L443.7,191.9L441.2,188.2L440.0,185.7L440.6,183.2L439.3,181.3L441.8,180.1Z" fill="#00b7d0"/>
<path d="M431.2,193.2L435.6,190.7L437.5,192.6L440.0,193.2L440.6,199.4L437.5,200.7L430.6,201.3L432.5,198.2Z" fill="#0073bd"/>
<path d="M436.8,190.7L440.0,190.1L441.8,191.9L439.3,193.2L437.1,192.6Z" fill="#00b7d0"/>
<path d="M573.8,388.1L575.7,396.5L571.9,406.0L568.2,419.2L564.4,424.8L560.6,422.9L559.7,413.5L561.6,400.3L570.0,394.7Z" fill="#c8c8c8"/>
<path d="M683.5,340.0L691.0,342.5L699.0,349.0L705.0,355.0L709.5,361.0L712.0,368.0L710.0,371.0L705.0,370.0L700.0,364.0L693.0,356.0L687.0,348.0Z" fill="#c8c8c8"/>
<path d="M710.1,373.1L718.4,374.1L728.9,376.2L727.9,377.7L718.4,377.3L710.1,375.6Z" fill="#c8c8c8"/>
<path d="M716.3,352.1L726.8,348.0L735.2,339.6L741.5,341.7L739.4,350.1L737.3,360.5L731.0,364.7L722.6,362.6L718.4,358.4Z" fill="#c8c8c8"/>
<path d="M741.5,352.1L745.7,350.1L756.1,352.1L749.8,355.3L746.7,358.4L754.0,360.5L758.2,366.8L749.8,363.7L745.7,368.9L742.5,368.9L742.5,360.5Z" fill="#c8c8c8"/>
<path d="M745.2,307.0L749.3,305.9L749.9,310.1L748.3,314.3L750.4,318.5L747.2,319.6L744.6,314.3Z" fill="#c8c8c8"/>
<path d="M748.3,323.7L754.6,322.7L757.7,325.8L752.5,330.0L749.3,326.9Z" fill="#c8c8c8"/>
<path d="M737.3,331.5L742.6,325.3L743.6,326.3L738.3,332.6Z" fill="#c8c8c8"/>
<path d="M733.0,378.0L745.0,378.5L748.0,380.5L735.0,380.5Z" fill="#c8c8c8"/>
<path d="M750.0,379.0L762.0,378.5L761.0,381.0L751.0,381.0Z" fill="#c8c8c8"/>
<path d="M751.4,333.2L757.7,330.0L759.8,335.3L756.7,340.5L753.5,337.4L749.3,336.3Z" fill="#c8c8c8"/>
<path d="M770.8,358.4L779.2,359.5L787.5,360.5L798.0,365.8L802.2,370.0L808.5,375.2L818.0,382.5L812.0,383.5L804.0,379.0L795.0,378.0L789.0,376.5L785.0,372.0L779.0,368.5L774.0,365.0L771.0,362.0Z" fill="#c8c8c8"/>
<path d="M649.3,329.9L652.1,331.3L653.5,338.3L650.7,339.0L649.0,334.1Z" fill="#c8c8c8"/>
<path d="M746.2,288.1L748.8,287.1L747.2,294.4L745.5,293.0Z" fill="#c8c8c8"/>
<path d="M716.9,303.8L719.0,300.7L721.6,301.8L721.1,304.4L717.9,305.4Z" fill="#730080"/>
<path d="M798.0,225.5L802.2,229.3L808.5,228.8L806.4,232.6L801.4,236.0L796.4,236.0L793.8,236.8L793.4,234.7L797.2,231.8Z" fill="#87d8ec"/>
<path d="M793.8,240.2L796.4,238.9L798.0,244.4L795.9,248.6L795.1,252.0L790.5,257.0L787.1,258.7L783.7,260.4L781.2,262.1L778.7,261.2L776.2,259.5L772.0,260.4L771.1,259.1L775.3,257.4L782.1,256.2L785.8,252.4L790.5,247.8L793.0,243.5Z" fill="#87d8ec"/>
<path d="M768.6,263.7L772.0,262.1L773.6,264.6L772.0,268.8L770.3,269.6L769.4,267.1Z" fill="#87d8ec"/>
<path d="M775.3,261.2L779.5,260.4L780.4,262.9L776.2,264.2Z" fill="#87d8ec"/>
<path d="M797.7,197.8L800.2,205.3L801.5,222.9L799.0,221.6L797.7,206.5Z" fill="#c27abd"/>
<path d="M581.9,120.2L588.2,108.6L600.7,99.2L613.3,95.0L623.4,92.5L622.7,96.5L609.1,101.3L597.6,108.6L593.4,117.0L594.9,124.3L585.0,123.7Z" fill="#c27abd"/>
<path d="M571.4,70.9L579.8,68.8L590.3,65.7L598.6,66.8L613.3,67.8L602.8,70.9L592.4,73.0L581.9,72.0Z" fill="#c27abd"/>
<path d="M675.1,66.8L684.5,68.8L695.0,75.1L707.5,81.4L701.3,85.6L692.9,81.4L682.4,75.1L677.2,70.9Z" fill="#c27abd"/>
<path d="M788.6,97.7L803.3,98.7L805.4,101.9L799.1,104.0L790.7,102.9Z" fill="#c27abd"/>
<path d="M809.6,100.8L820.1,101.9L819.0,104.0L810.6,102.9Z" fill="#c27abd"/>
<path d="M889.2,123.1L894.5,121.0L898.1,122.6L890.3,124.1Z" fill="#c27abd"/>
<path d="M912.3,157.6L915.0,157.8L919.6,159.3L918.0,159.9L912.8,158.7Z" fill="#730080"/>
<path d="M728.0,421.7L732.8,414.5L744.1,409.7L749.7,402.5L753.7,399.2L760.1,393.6L766.5,396.0L769.7,388.8L774.5,386.4L784.1,388.8L782.5,396.0L789.0,400.0L793.8,403.3L796.2,389.6L801.8,392.8L806.6,400.8L808.2,408.1L816.2,415.3L821.0,421.7L825.0,429.7L824.2,442.5L821.0,450.6L817.0,460.2L809.8,464.2L803.4,465.0L797.0,460.2L789.0,453.8L786.5,449.0L784.1,452.2L780.9,447.4L772.9,444.1L763.3,444.1L752.1,447.4L742.5,450.6L732.8,452.2L731.2,447.4L728.8,428.1Z" fill="#00b7d0"/>
<path d="M806.6,472.2L813.0,471.7L811.4,477.8L809.0,479.4Z" fill="#00b7d0"/>
<path d="M874.2,453.1L876.4,454.6L878.6,459.0L880.8,459.7L882.2,462.7L885.9,462.7L882.2,467.0L880.0,470.0L878.6,473.6L877.8,470.0L875.6,467.0L877.1,463.4L874.9,457.5L873.4,453.9Z" fill="#00b7d0"/>
<path d="M871.2,472.2L875.6,472.2L875.6,475.8L873.4,478.8L869.8,482.4L866.1,486.1L861.7,489.8L858.1,488.3L859.5,484.6L864.7,481.0L868.3,478.0L870.5,474.4Z" fill="#00b7d0"/>
<path d="M813.9,371.3L819.1,372.0L823.5,367.6" fill="none" stroke="#c8c8c8" stroke-width="1.1" stroke-dasharray="3 1.2"/>
<path d="M829.3,370.5L835.2,374.9" fill="none" stroke="#c8c8c8" stroke-width="1.1" stroke-dasharray="3 1.2"/>
<path d="M838.9,377.1L846.9,384.5" fill="none" stroke="#c8c8c8" stroke-width="1.1" stroke-dasharray="3 1.2"/>
<path d="M852.8,411.6L858.6,416.7" fill="none" stroke="#c8c8c8" stroke-width="1.1" stroke-dasharray="3 1.2"/>
<path d="M885.0,405.0L890.2,400.6" fill="none" stroke="#c8c8c8" stroke-width="1.1" stroke-dasharray="3 1.2"/>
<path d="M266.8,335.2L273.5,326.8L278.5,324.3L283.6,325.1L290.3,326.8L300.3,327.6L307.0,332.7L313.7,336.9L320.4,340.2L327.1,345.2L330.5,350.3L333.8,355.3L340.5,360.3L348.9,363.7L357.3,363.7L364.0,367.0L369.0,372.0L367.3,380.4L362.3,387.1L358.9,393.8L359.9,403.3L354.7,413.8L346.4,417.9L338.0,426.3L331.8,434.6L323.4,448.2L317.2,449.2L313.0,449.2L315.1,455.5L308.8,459.7L302.6,465.9L298.4,472.2L295.3,478.4L292.1,488.9L290.1,497.2L285.9,505.6L288.0,513.9L295.3,519.1L290.1,520.2L283.8,518.1L277.5,511.8L272.3,503.5L271.3,488.9L273.4,478.4L275.5,463.8L278.6,449.2L281.7,430.5L284.8,413.8L283.8,403.3L271.3,395.0L271.8,393.8L266.8,383.8L260.1,373.7L256.8,367.0L258.4,355.3L262.6,350.3L263.5,341.9Z" fill="#c8c8c8"/>
<g mask="url(#cSA)">
<path d="M262.0,333.0L272.0,326.0L279.0,320.0L276.9,331.8L281.9,338.5L289.4,340.2L290.3,350.3L284.4,351.1L284.4,362.0L280.2,358.6L273.5,355.3L263.5,350.3L250.0,345.0Z" fill="#3d0845" stroke="#fff" stroke-width="0.5"/>
<path d="M284.4,351.1L290.3,350.3L297.0,345.2L307.0,343.6L310.4,350.3L318.7,350.3L328.8,348.6L340.0,335.0L390.0,360.0L380.0,420.0L340.0,450.0L325.5,447.1L319.3,438.8L323.4,428.4L321.4,424.2L315.1,420.0L313.0,405.4L308.8,395.0L307.0,393.8L297.0,387.1L293.6,382.1L283.6,383.8L275.2,375.4L280.2,370.4L284.4,362.0Z" fill="#730080" stroke="#fff" stroke-width="0.5"/>
<path d="M282.0,401.0L286.3,404.6L289.5,421.3L286.3,438.0L283.2,452.7L280.1,469.4L278.0,484.0L279.0,498.6L285.3,507.0L288.4,515.3L292.0,519.0L290.0,528.0L265.0,520.0L255.0,450.0L265.0,405.0Z" fill="#c27abd" stroke="#fff" stroke-width="0.5"/>
</g>
<path d="M306.5,507.5L310.0,506.5L313.5,507.5L311.0,509.5L307.0,509.5Z" fill="#c8c8c8"/>
<path d="M452.7,257.1L450.9,266.0L436.7,276.7L434.9,282.0" fill="none" stroke="#fff" stroke-width="0.45" stroke-opacity="0.6"/>
<path d="M434.9,282.0L465.2,303.4L484.8,290.9" fill="none" stroke="#fff" stroke-width="0.45" stroke-opacity="0.6"/>
<path d="M477.6,253.6L479.4,264.2L480.3,285.6L484.8,290.9" fill="none" stroke="#fff" stroke-width="0.45" stroke-opacity="0.6"/>
<path d="M513.2,266.0L515.0,294.5" fill="none" stroke="#fff" stroke-width="0.45" stroke-opacity="0.6"/>
<path d="M515.0,294.5L539.9,294.5" fill="none" stroke="#fff" stroke-width="0.45" stroke-opacity="0.6"/>
<path d="M484.8,290.9L493.7,292.7L513.2,301.6L515.0,294.5" fill="none" stroke="#fff" stroke-width="0.45" stroke-opacity="0.6"/>
<path d="M513.2,301.6L511.5,317.6L508.8,324.8L516.8,335.4" fill="none" stroke="#fff" stroke-width="0.45" stroke-opacity="0.6"/>
<path d="M434.9,282.0L442.0,287.4L442.0,312.3L427.8,315.9" fill="none" stroke="#fff" stroke-width="0.45" stroke-opacity="0.6"/>
<path d="M465.2,303.4L465.2,314.1L456.3,315.9L445.6,324.8L436.7,326.5" fill="none" stroke="#fff" stroke-width="0.45" stroke-opacity="0.6"/>
<path d="M465.2,314.1L490.1,317.6L493.7,308.7L493.7,292.7" fill="none" stroke="#fff" stroke-width="0.45" stroke-opacity="0.6"/>
<path d="M490.1,317.6L488.3,328.3L479.4,340.8" fill="none" stroke="#fff" stroke-width="0.45" stroke-opacity="0.6"/>
<path d="M508.8,324.8L534.6,326.5L541.7,312.3L547.1,308.7" fill="none" stroke="#fff" stroke-width="0.45" stroke-opacity="0.6"/>
<path d="M534.6,326.5L538.2,339.0L552.4,339.0L566.6,328.3" fill="none" stroke="#fff" stroke-width="0.45" stroke-opacity="0.6"/>
<path d="M415.3,298.1L434.9,298.1L434.9,282.0" fill="none" stroke="#fff" stroke-width="0.45" stroke-opacity="0.6"/>
<path d="M490.1,333.7L516.8,335.4L525.7,344.3" fill="none" stroke="#fff" stroke-width="0.45" stroke-opacity="0.6"/>
<path d="M534.6,342.6L538.2,356.8" fill="none" stroke="#fff" stroke-width="0.45" stroke-opacity="0.6"/>
<path d="M436.7,326.5L436.7,337.2" fill="none" stroke="#fff" stroke-width="0.45" stroke-opacity="0.6"/>
<path d="M449.2,324.8L449.2,339.0" fill="none" stroke="#fff" stroke-width="0.45" stroke-opacity="0.6"/>
<path d="M457.2,323.0L457.2,339.0" fill="none" stroke="#fff" stroke-width="0.45" stroke-opacity="0.6"/>
<path d="M426.0,321.2L442.0,321.2" fill="none" stroke="#fff" stroke-width="0.45" stroke-opacity="0.6"/>
<path d="M463.4,339.0L463.4,324.8L465.2,314.1" fill="none" stroke="#fff" stroke-width="0.45" stroke-opacity="0.6"/>
<path d="M479.6,355.1L496.5,372.0L507.8,375.8L509.7,385.2L524.8,387.1" fill="none" stroke="#fff" stroke-width="0.45" stroke-opacity="0.6"/>
<path d="M486.2,400.3L515.4,402.2L526.7,400.3" fill="none" stroke="#fff" stroke-width="0.45" stroke-opacity="0.6"/>
<path d="M505.0,404.1L505.0,426.7L496.5,434.2" fill="none" stroke="#fff" stroke-width="0.45" stroke-opacity="0.6"/>
<path d="M505.0,426.7L517.3,421.0L526.7,415.4L538.0,411.6" fill="none" stroke="#fff" stroke-width="0.45" stroke-opacity="0.6"/>
<path d="M522.9,377.7L534.2,385.2L538.0,394.7L549.3,389.0" fill="none" stroke="#fff" stroke-width="0.45" stroke-opacity="0.6"/>
<path d="M526.7,400.3L532.3,398.4L534.2,415.4L538.0,421.0" fill="none" stroke="#fff" stroke-width="0.45" stroke-opacity="0.6"/>
<path d="M536.1,357.9L547.4,372.0" fill="none" stroke="#fff" stroke-width="0.45" stroke-opacity="0.6"/>
<path d="M507.8,375.8L522.9,377.7" fill="none" stroke="#fff" stroke-width="0.45" stroke-opacity="0.6"/>
<path d="M473.9,340.0L489.0,355.1" fill="none" stroke="#fff" stroke-width="0.45" stroke-opacity="0.6"/>
<path d="M496.5,340.0L496.5,372.0" fill="none" stroke="#fff" stroke-width="0.45" stroke-opacity="0.6"/>
<path d="M542.0,252.6L553.9,251.3L565.2,256.3L570.3,265.1L570.9,272.7" fill="none" stroke="#fff" stroke-width="0.45" stroke-opacity="0.6"/>
<path d="M540.1,271.4L551.4,267.6L557.7,266.4L570.3,272.7" fill="none" stroke="#fff" stroke-width="0.45" stroke-opacity="0.6"/>
<path d="M561.5,240.0L565.2,256.3" fill="none" stroke="#fff" stroke-width="0.45" stroke-opacity="0.6"/>
<path d="M602.9,255.1L605.4,276.4L608.0,285.2" fill="none" stroke="#fff" stroke-width="0.45" stroke-opacity="0.6"/>
<path d="M615.5,250.1L626.8,258.8L620.5,271.4L606.7,275.2" fill="none" stroke="#fff" stroke-width="0.45" stroke-opacity="0.6"/>
<path d="M560.2,310.4L580.3,305.3L590.4,295.3L592.9,285.2" fill="none" stroke="#fff" stroke-width="0.45" stroke-opacity="0.6"/>
<path d="M582.8,250.1L602.9,255.1" fill="none" stroke="#fff" stroke-width="0.45" stroke-opacity="0.6"/>
<path d="M538.8,267.6L542.0,252.6" fill="none" stroke="#fff" stroke-width="0.45" stroke-opacity="0.6"/>
<path d="M586.1,235.4L596.5,222.8L602.8,233.3L623.8,237.5L638.4,241.7" fill="none" stroke="#fff" stroke-width="0.45" stroke-opacity="0.6"/>
<path d="M596.5,222.8L594.5,243.8L607.0,256.3" fill="none" stroke="#fff" stroke-width="0.45" stroke-opacity="0.6"/>
<path d="M623.8,237.5L636.3,245.9" fill="none" stroke="#fff" stroke-width="0.45" stroke-opacity="0.6"/>
<path d="M607.0,256.3L628.0,252.1L638.4,248.0" fill="none" stroke="#fff" stroke-width="0.45" stroke-opacity="0.6"/>
<path d="M512.3,204.8L539.5,203.7" fill="none" stroke="#fff" stroke-width="0.45" stroke-opacity="0.6"/>
<path d="M509.1,209.0L515.4,219.5L525.9,223.6L540.0,223.6" fill="none" stroke="#fff" stroke-width="0.45" stroke-opacity="0.6"/>
<path d="M498.6,222.6L515.4,220.5" fill="none" stroke="#fff" stroke-width="0.45" stroke-opacity="0.6"/>
<path d="M307.0,332.7L308.7,341.9" fill="none" stroke="#fff" stroke-width="0.45" stroke-opacity="0.6"/>
<path d="M313.7,336.9L315.4,346.9" fill="none" stroke="#fff" stroke-width="0.45" stroke-opacity="0.6"/>
<path d="M320.4,340.2L322.1,348.6" fill="none" stroke="#fff" stroke-width="0.45" stroke-opacity="0.6"/>
<path d="M258.4,355.3L273.5,355.3L280.2,358.6" fill="none" stroke="#fff" stroke-width="0.45" stroke-opacity="0.6"/>
<path d="M275.2,375.4L281.9,387.1L290.3,393.8L288.6,407.1" fill="none" stroke="#fff" stroke-width="0.45" stroke-opacity="0.6"/>
<path d="M284.8,415.9L302.6,415.9L313.0,407.5" fill="none" stroke="#fff" stroke-width="0.45" stroke-opacity="0.6"/>
<path d="M302.6,415.9L315.1,430.5L323.4,428.4" fill="none" stroke="#fff" stroke-width="0.45" stroke-opacity="0.6"/>
<path d="M313.0,440.9L323.4,443.0" fill="none" stroke="#fff" stroke-width="0.45" stroke-opacity="0.6"/>
<path d="M687.6,298.6L693.8,305.9L690.7,320.6" fill="none" stroke="#fff" stroke-width="0.45" stroke-opacity="0.6"/>
<path d="M700.1,295.5L709.6,304.9L712.7,314.3L713.7,319.6" fill="none" stroke="#fff" stroke-width="0.45" stroke-opacity="0.6"/>
<path d="M693.8,299.7L701.2,305.9L706.4,312.2L709.6,318.5" fill="none" stroke="#fff" stroke-width="0.45" stroke-opacity="0.6"/>
<path d="M702.2,318.5L709.6,319.6L712.7,317.5" fill="none" stroke="#fff" stroke-width="0.45" stroke-opacity="0.6"/>
</svg>
<div class="title">OVERALL GRI SCORE (%)</div>
<div class="bar" style="left:135px;background:#3d0845"></div>
<div class="lab" style="left:133.5px;transform:scaleX(0.967)">40% and below</div>
<div class="bar" style="left:251.2px;background:#730080"></div>
<div class="lab" style="left:250.1px;transform:scaleX(0.91)">41%-50%</div>
<div class="bar" style="left:367.8px;background:#c27abd"></div>
<div class="lab" style="left:369.3px;transform:scaleX(0.91)">51%-60%</div>
<div class="bar" style="left:484.6px;background:#87d8ec"></div>
<div class="lab" style="left:486.1px;transform:scaleX(0.91)">61%-70%</div>
<div class="bar" style="left:601.2px;background:#00b7d0"></div>
<div class="lab" style="left:602.7px;transform:scaleX(0.91)">71%-80%</div>
<div class="bar" style="left:718px;background:#0073bd"></div>
<div class="lab" style="left:718px;transform:scaleX(0.967)">81% and above</div>
</body></html>
